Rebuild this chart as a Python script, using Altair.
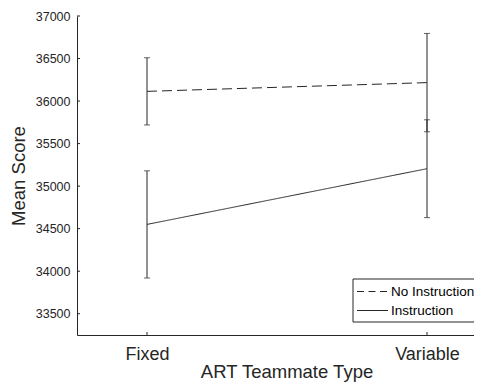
import altair as alt
import pandas as pd

conditions = ["Fixed", "Variable"]
groups = ["No Instruction", "Instruction"]
no_instr_mean = [36114, 36217]
no_instr_err = [395, 578]
instr_mean = [34550, 35205]
instr_err = [630, 575]
y_ticks = [33500, 34000, 34500, 35000, 35500, 36000, 36500, 37000]

rows = []
for g, means, errs in [(groups[0], no_instr_mean, no_instr_err), (groups[1], instr_mean, instr_err)]:
    for i, (c, m, e) in enumerate(zip(conditions, means, errs)):
        rows.append({"pos": i + 1, "cond": c, "group": g, "mean": m, "lo": m - e, "hi": m + e})
df = pd.DataFrame(rows)

FONT = "Liberation Sans"
INK = "#262626"
W, H = 397, 319

x_scale = alt.Scale(domain=[0.75, 0.75 + W / 280], nice=False, zero=False)
y_scale = alt.Scale(domain=[33250, 37000], nice=False, zero=False)

label_expr = "[" + ",".join(f"'{c}'" for c in conditions) + "][datum.value - 1]"

x_axis = alt.Axis(title="ART Teammate Type", values=list(range(1, len(conditions) + 1)),
                  labelExpr=label_expr, labelAngle=0, ticks=False, tickSize=0,
                  labelPadding=10, labelFontSize=18, titleFontSize=18.5,
                  titleX=209.5, titleY=42, titleAlign="center", titleBaseline="alphabetic",
                  titleFontWeight="normal", grid=False,
                  domainColor=INK, labelColor=INK, titleColor=INK,
                  labelFont=FONT, titleFont=FONT)
y_axis = alt.Axis(title="Mean Score", values=y_ticks, format="d", ticks=False, tickSize=0,
                  labelPadding=7, labelFontSize=12.5, titleFontSize=18.5,
                  titlePadding=7, titleFontWeight="normal", grid=False,
                  domainColor=INK, labelColor=INK, titleColor=INK,
                  labelFont=FONT, titleFont=FONT)

X = lambda f: alt.X(f, scale=x_scale, axis=x_axis)
Y = lambda f: alt.Y(f, scale=y_scale, axis=y_axis)

base = alt.Chart(df)

dash_scale = alt.Scale(domain=groups, range=[[10, 5], [1, 0]])

lines = base.mark_line(strokeWidth=1, color=INK).encode(
    x=X("pos:Q"), y=Y("mean:Q"),
    strokeDash=alt.StrokeDash("group:N", scale=dash_scale, legend=None),
    detail="group:N",
)
err_rule = base.mark_rule(strokeWidth=1, color=INK).encode(
    x=X("pos:Q"), y=Y("lo:Q"), y2="hi:Q",
)
cap_lo = base.mark_tick(size=6, thickness=1, color=INK, orient="horizontal").encode(
    x=X("pos:Q"), y=Y("lo:Q"),
)
cap_hi = base.mark_tick(size=6, thickness=1, color=INK, orient="horizontal").encode(
    x=X("pos:Q"), y=Y("hi:Q"),
)

ytick_df = pd.DataFrame({"v": y_ticks})
ytick_marks = alt.Chart(ytick_df).mark_rule(strokeWidth=1, color=INK).encode(
    y=Y("v:Q"), x=alt.value(0), x2=alt.value(3),
)
xtick_df = pd.DataFrame({"pos": list(range(1, len(conditions) + 1))})
xtick_marks = alt.Chart(xtick_df).mark_rule(strokeWidth=1, color=INK).encode(
    x=X("pos:Q"), y=alt.value(H), y2=alt.value(H - 3),
)

# legend box (top-right, clipped at the chart edge like the reference)
lx, ly = 276, 263
legend_box = alt.Chart(pd.DataFrame({"a": [0]})).mark_rect(
    fill="#ffffff", stroke=INK, strokeWidth=1
).encode(x=alt.value(lx), x2=alt.value(W + 40), y=alt.value(ly), y2=alt.value(ly + 43))

legend_layers = [legend_box]
dashes = [[7, 4.5], [1, 0]]
for i, g in enumerate(groups):
    yy = ly + 12.5 + 19 * i
    gdf = pd.DataFrame({"group": [g]})
    legend_layers.append(
        alt.Chart(gdf).mark_rule(strokeWidth=1, color=INK, strokeDash=dashes[i]).encode(
            x=alt.value(lx + 4), x2=alt.value(lx + 35), y=alt.value(yy)
        )
    )
    legend_layers.append(
        alt.Chart(gdf).mark_text(align="left", baseline="middle", font=FONT,
                                 fontSize=13.5, color="#000000").encode(
            x=alt.value(lx + 38), y=alt.value(yy), text="group:N"
        )
    )

chart = alt.layer(lines, err_rule, cap_lo, cap_hi, ytick_marks, xtick_marks, *legend_layers).properties(
    width=W, height=H,
    autosize=alt.AutoSizeParams(type="none"),
    padding={"left": 69, "top": 8, "right": 0, "bottom": 47},
    background="#ffffff",
).configure_view(stroke=None)

chart.save("out.html", embed_options={"renderer": "svg", "actions": False})
